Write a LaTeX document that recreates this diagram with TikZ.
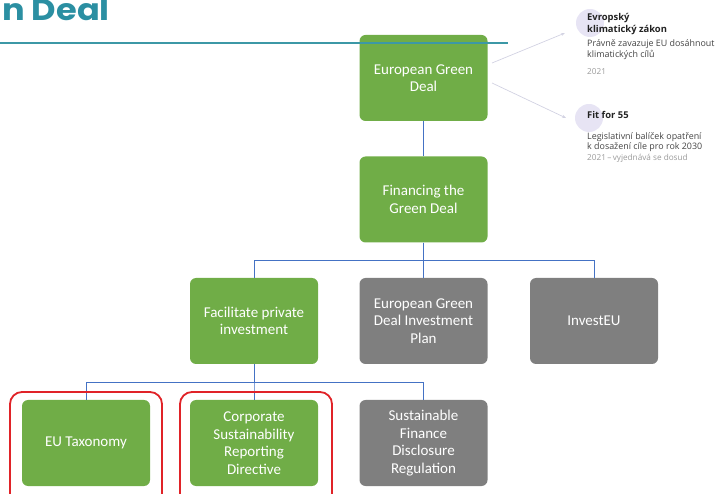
\documentclass[tikz,border=0pt]{standalone}
\usepackage{fontspec}
\setmainfont{Carlito}
\newfontfamily\titlefont{Poppins}
\newfontfamily\infofont{Open Sans}
\usetikzlibrary{arrows.meta}
\definecolor{boxgreen}{HTML}{70AD47}
\definecolor{boxgray}{HTML}{7F7F7F}
\definecolor{linkblue}{HTML}{4472C4}
\definecolor{hilite}{HTML}{E02328}
\definecolor{teal}{HTML}{3C98A6}
\definecolor{titleteal}{HTML}{2B8FA2}
\definecolor{lav}{HTML}{E7E4F4}
\definecolor{arrowlav}{HTML}{D2D2E2}
\definecolor{headtxt}{HTML}{222222}
\definecolor{bodytxt}{HTML}{444444}
\definecolor{yeartxt}{HTML}{9A9A9A}
\tikzset{
  orgbox/.style={rounded corners=6pt, minimum width=128pt, minimum height=86pt,
    align=center, text=white, inner sep=0pt,
    font=\fontsize{15}{17.5}\selectfont},
  greenbox/.style={orgbox, fill=boxgreen},
  graybox/.style={orgbox, fill=boxgray},
  link/.style={draw=linkblue, line width=1pt},
  hiliteframe/.style={draw=hilite, line width=1.8pt, rounded corners=12pt},
  infoarrow/.style={draw=arrowlav, line width=0.7pt, -{Stealth[length=4pt,width=3pt]}},
  infohead/.style={anchor=base west, inner sep=0pt, text=headtxt,
    font=\infofont\bfseries\fontsize{9.4}{11}\selectfont},
  infobody/.style={anchor=base west, inner sep=0pt, text=bodytxt,
    font=\infofont\fontsize{8.9}{11}\selectfont},
  infoyear/.style={anchor=base west, inner sep=0pt, text=yeartxt,
    font=\infofont\fontsize{8.2}{10}\selectfont},
  dot/.style={circle, fill=lav, minimum size=28pt, inner sep=0pt}
}
\begin{document}
\begin{tikzpicture}[x=1pt,y=-1pt]
\useasboundingbox (0,0) rectangle (718,494);
\clip (0,0) rectangle (718,494);

% title
\node[anchor=base east, inner sep=0pt, text=titleteal, xscale=1.12, transform shape,
  font=\titlefont\bfseries\fontsize{30}{30}\selectfont] (title) at (110,21) {n Deal};

% boxes
\node[greenbox] (egd) at (423.5,78) {European Green\\Deal};
\node[greenbox] (fin) at (423.5,199.5) {Financing the\\Green Deal};
\node[greenbox] (fac) at (254,321) {Facilitate private\\investment};
\node[graybox]  (plan) at (423.5,321) {European Green\\Deal Investment\\Plan};
\node[graybox]  (inv) at (594,321) {InvestEU};
\node[greenbox] (tax) at (86,443) {EU Taxonomy};
\node[greenbox] (csrd) at (254,443) {Corporate\\Sustainability\\Reporting\\Directive};
\node[graybox]  (sfdr) at (423.5,443) {Sustainable\\Finance\\Disclosure\\Regulation};

% teal rule across top
\draw[teal, line width=1.5pt] (0,43) -- (508,43);

% connectors
\draw[link] (egd.south) -- (fin.north);
\draw[link] (fin.south) -- ++(0,18) -| (fac.north);
\draw[link] (fin.south) -- (plan.north);
\draw[link] (fin.south) -- ++(0,18) -| (inv.north);
\draw[link] (fac.south) -- ++(0,18) -| (tax.north);
\draw[link] (fac.south) -- ++(0,18) -| (csrd.north);
\draw[link] (fac.south) -- ++(0,18) -| (sfdr.north);

% highlight frames
\draw[hiliteframe] (10,392) rectangle (162,510);
\draw[hiliteframe] (180,392) rectangle (332,510);

% info on the right
\node[dot] (dot1) at (590,23) {};
\node[dot] (dot2) at (589,118) {};
\coordinate (s1) at (492,63);
\coordinate (s2) at (492,83);
\coordinate (a1) at (565,33);
\coordinate (a2) at (566,118);
\draw[infoarrow] (s1) -- (a1);
\draw[infoarrow] (s2) -- (a2);

\node[infohead] (h1a) at (587,21) {Evropský};
\node[infohead] (h1b) at (587,33) {klimatický zákon};
\node[infobody] (b1a) at (587,47) {Právně zavazuje EU dosáhnout};
\node[infobody] (b1b) at (587,57.5) {klimatických cílů};
\node[infoyear] (y1) at (587,75) {2021};

\node[infohead] (h2) at (587,118.5) {Fit for 55};
\node[infobody] (b2a) at (587,140) {Legislativní balíček opatření};
\node[infobody] (b2b) at (587,150) {k dosažení cíle pro rok 2030};
\node[infoyear] (y2) at (587,161) {2021\,–\,vyjednává se dosud};
\end{tikzpicture}
\end{document}
